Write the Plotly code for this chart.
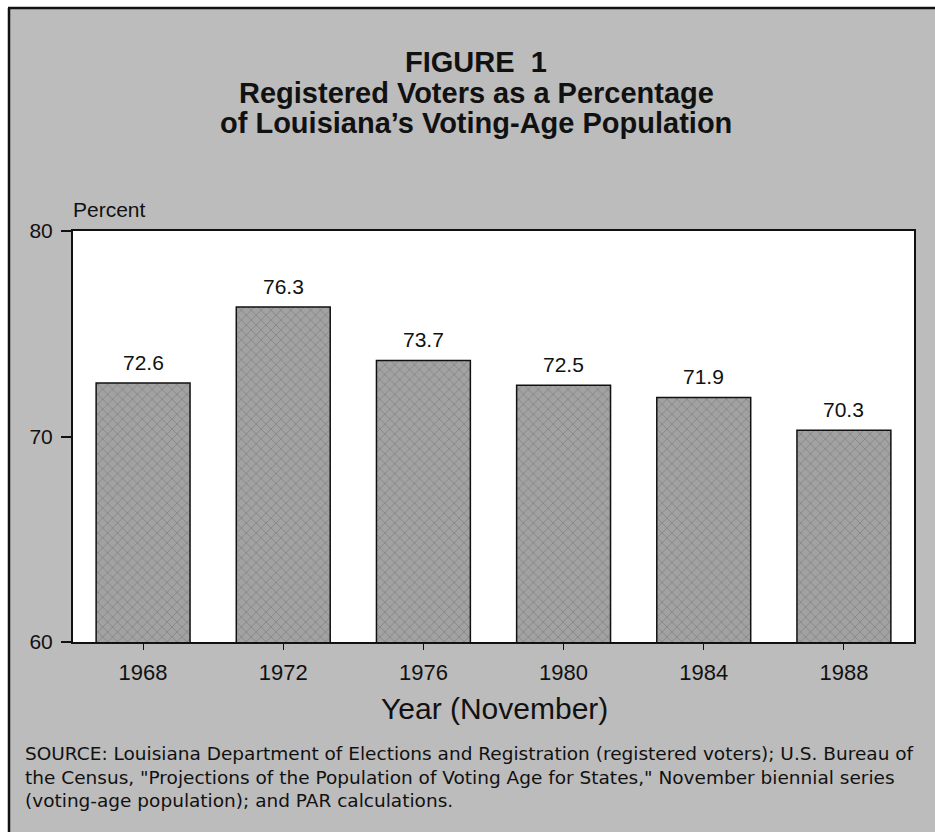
import plotly.graph_objects as go

years = ["1968", "1972", "1976", "1980", "1984", "1988"]
values = [72.6, 76.3, 73.7, 72.5, 71.9, 70.3]
y_ticks = [60, 70, 80]
y_tick_text = ["60", "70", "80"]

title_lines = [
    "FIGURE  1",
    "Registered Voters as a Percentage",
    "of Louisiana\u2019s Voting-Age Population",
]
source_lines = [
    "SOURCE: Louisiana Department of Elections and Registration (registered voters); U.S. Bureau of",
    "the Census, \"Projections of the Population of Voting Age for States,\" November biennial series",
    "(voting-age population); and PAR calculations.",
]

W, H = 935, 832
L, R, T, B = 73, 21, 231, 190
PW, PH = W - L - R, H - T - B

def px_x(x):
    return (x - L) / PW

def px_y(y):
    return (H - B - y) / PH

FONT = "Liberation Sans, Arial, Helvetica, sans-serif"
WIDE = "DejaVu Sans, Verdana, sans-serif"
BG = "#bcbcbc"

fig = go.Figure()
fig.add_trace(go.Bar(
    x=years, y=values,
    marker=dict(color="#979797", line=dict(color="#111111", width=1.5),
                pattern=dict(shape="x", fgcolor="#6e6e6e", bgcolor="#a2a2a2", size=7, solidity=0.25)),
    hoverinfo="skip",
))

annotations = []
for i, v in enumerate(values):
    annotations.append(dict(x=i, y=v, xref="x", yref="y", text=f"{v:.1f}", showarrow=False,
                            yanchor="bottom", yshift=7, font=dict(family=FONT, size=21, color="#111")))

title_y = [62, 93, 123]
for line, yy in zip(title_lines, title_y):
    annotations.append(dict(x=px_x(476), y=px_y(yy), xref="paper", yref="paper", text=f"<b>{line}</b>",
                            showarrow=False, xanchor="center", yanchor="middle",
                            font=dict(family=FONT, size=29, color="#111")))

annotations.append(dict(x=px_x(71), y=px_y(210), xref="paper", yref="paper", text="Percent",
                        showarrow=False, xanchor="left", yanchor="middle",
                        font=dict(family=FONT, size=21, color="#111")))
annotations.append(dict(x=px_x(495), y=px_y(708), xref="paper", yref="paper", text="Year (November)",
                        showarrow=False, xanchor="center", yanchor="middle",
                        font=dict(family=FONT, size=30, color="#111")))
for line, yy in zip(source_lines, [753, 777, 800]):
    annotations.append(dict(x=px_x(23), y=px_y(yy), xref="paper", yref="paper", text=line,
                            showarrow=False, xanchor="left", yanchor="middle", align="left",
                            font=dict(family=WIDE, size=18.5, color="#111")))

shapes = [
    dict(type="rect", xref="paper", yref="paper", x0=px_x(-5), x1=px_x(W + 5), y0=px_y(7), y1=px_y(-5),
         fillcolor="white", line=dict(width=0), layer="below"),
    dict(type="rect", xref="paper", yref="paper", x0=px_x(-5), x1=px_x(8), y0=px_y(H + 5), y1=px_y(-5),
         fillcolor="white", line=dict(width=0), layer="below"),
    dict(type="line", xref="paper", yref="paper", x0=px_x(8), x1=px_x(W + 5), y0=px_y(8), y1=px_y(8),
         line=dict(color="#111", width=2.5)),
    dict(type="line", xref="paper", yref="paper", x0=px_x(9), x1=px_x(9), y0=px_y(8), y1=px_y(H + 5),
         line=dict(color="#111", width=2.5)),
]

fig.update_layout(
    width=W, height=H,
    margin=dict(l=L, r=R, t=T, b=B, pad=0),
    paper_bgcolor=BG, plot_bgcolor="white",
    showlegend=False, bargap=0.33,
    annotations=annotations, shapes=shapes,
    font=dict(family=FONT, color="#111"),
)
fig.update_xaxes(type="category", showline=True, linecolor="#111", linewidth=2, mirror=True,
                 ticks="outside", ticklen=6, tickcolor="#111", tickwidth=1,
                 tickfont=dict(family=FONT, size=22, color="#111"), showgrid=False,
                 ticklabelstandoff=4)
fig.update_yaxes(range=[60, 80], tickvals=y_ticks, ticktext=y_tick_text, showline=True,
                 linecolor="#111", linewidth=2, mirror=True, ticks="outside", ticklen=10,
                 tickcolor="#111", tickwidth=1.5, tickfont=dict(family=FONT, size=21, color="#111"),
                 showgrid=False, zeroline=False, ticklabelstandoff=4)

fig.write_html("out.html")
